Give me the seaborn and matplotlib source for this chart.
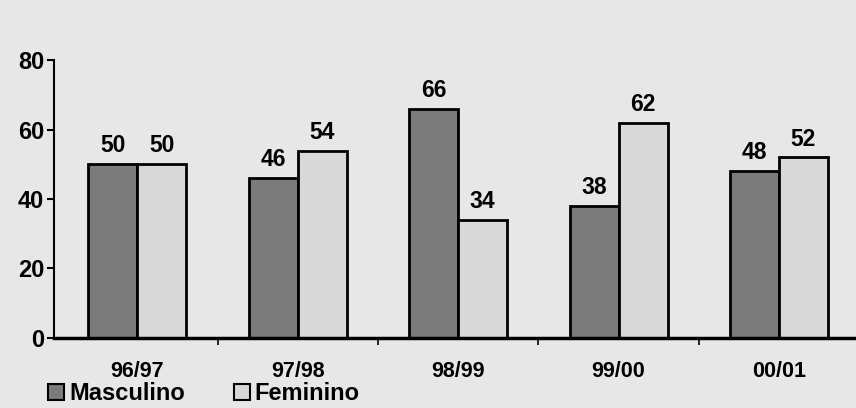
import matplotlib
matplotlib.use("Agg")
import matplotlib.pyplot as plt
import seaborn as sns
import pandas as pd
from matplotlib.lines import Line2D

periodos = ["96/97", "97/98", "98/99", "99/00", "00/01"]
masculino = [50, 46, 66, 38, 48]
feminino = [50, 54, 34, 62, 52]
series = ["Masculino", "Feminino"]
y_ticks = [0, 20, 40, 60, 80]

df = pd.DataFrame({
    "periodo": periodos * 2,
    "valor": masculino + feminino,
    "sexo": [series[0]] * len(periodos) + [series[1]] * len(periodos),
})

sns.set_theme(style="white")
plt.rcParams["font.family"] = ["Liberation Sans", "DejaVu Sans"]
plt.rcParams["font.weight"] = "bold"
for key in ("text.color", "xtick.color", "ytick.color", "axes.labelcolor"):
    plt.rcParams[key] = "black"

bg = "#e7e7e7"
dark = "#7b7b7b"
light = "#d8d8d8"

fig = plt.figure(figsize=(8.56, 4.08), dpi=100, facecolor=bg)
ax = fig.add_axes([0.063, 0.172, 0.937, 0.68])
ax.set_facecolor(bg)

sns.barplot(data=df, x="periodo", y="valor", hue="sexo", order=periodos,
            hue_order=series, palette=[dark, light], edgecolor="black",
            linewidth=2, width=0.61, ax=ax, legend=False)

for cont in ax.containers:
    ax.bar_label(cont, fmt="%d", padding=5, fontsize=16.5, fontweight="bold")

ax.set_ylim(0, 80)
ax.set_yticks(y_ticks)
ax.set_xlim(-0.52, len(periodos) - 0.52)
ax.set_xlabel("")
ax.set_ylabel("")
for s in ["top", "right"]:
    ax.spines[s].set_visible(False)
ax.spines["left"].set_linewidth(1.5)
ax.spines["bottom"].set_linewidth(2.5)
ax.spines["left"].set_color("black")
ax.spines["bottom"].set_color("black")

ax.tick_params(axis="y", direction="out", length=5, width=1.5, labelsize=17, pad=2, left=True)
ax.tick_params(axis="x", bottom=False, labelsize=15.5, pad=11)
for lab in ax.get_xticklabels() + ax.get_yticklabels():
    lab.set_fontweight("bold")

# small separators between categories on the x axis
ax.set_xticks([i + 0.5 for i in range(len(periodos) - 1)], minor=True)
ax.tick_params(axis="x", which="minor", bottom=True, direction="out", length=5, width=1.2)

handles = [Line2D([], [], marker="s", linestyle="", markersize=12,
                  markerfacecolor=c, markeredgecolor="black", markeredgewidth=1.5)
           for c in (dark, light)]
leg = fig.legend(handles, series, loc="lower left", bbox_to_anchor=(0.03, -0.045),
                 ncol=2, frameon=False, fontsize=17, handlelength=0.8,
                 handletextpad=0.15, columnspacing=2.0)
for t in leg.get_texts():
    t.set_fontweight("bold")

fig.savefig("out.png", dpi=100, facecolor=bg)
